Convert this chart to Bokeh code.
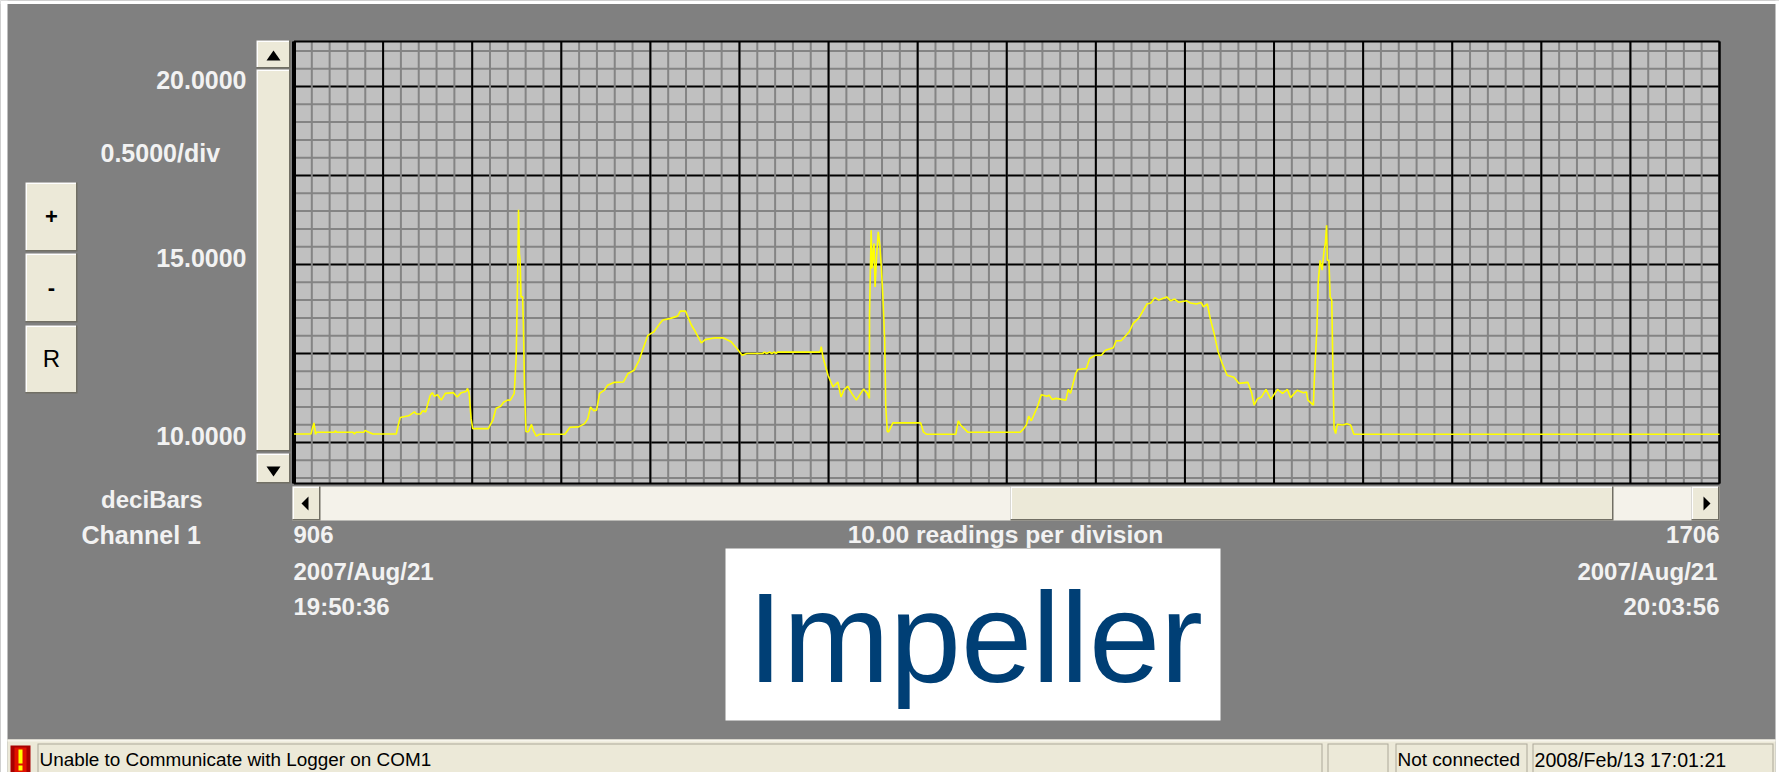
from bokeh.plotting import figure
from bokeh.models import Range1d, ColumnDataSource
from bokeh.core.properties import value
from bokeh.embed import file_html
from bokeh.resources import INLINE

# ---- data ----
readings = [906,915.5,916.3,917.2,918.1,918.6,928.8,929.2,929.9,939.2,939.9,940.8,945.2,945.9,947,950.3,963.4,964.7,965.6,970.3,973.6,974.7,977,978.1,979.9,981.4,982.5,983.6,984.7,986.5,988.7,990.9,995.4,997.6,999.8,1002.5,1003.4,1004.3,1005.4,1006.3,1015.1,1015.8,1017.6,1019.4,1022,1023.6,1025.8,1027.4,1029.6,1030.7,1031.6,1032,1032.5,1032.9,1033.4,1034.3,1034.7,1035.4,1036.2,1037.6,1039.3,1040.2,1042,1043.8,1058,1060.9,1065.8,1069.1,1070.9,1072.4,1074.2,1075.8,1077.5,1080.2,1082,1085.8,1090.9,1093.5,1096.9,1099.7,1101.3,1104.6,1108,1111.3,1113,1116.8,1121.3,1122.8,1125.7,1129,1131.3,1134.6,1136.8,1142.4,1146.8,1151.3,1154.6,1157.5,1160.1,1169,1170.1,1171.2,1173,1174.1,1175.7,1176.6,1177.4,1201.2,1201.9,1202.8,1205.7,1208.5,1211.2,1213,1214.5,1216.7,1219,1221.6,1223.4,1225.6,1227.8,1228.9,1229,1229.9,1230.4,1231.5,1232.1,1233,1233.9,1234.8,1235.7,1236.4,1237.5,1238.1,1239,1239.7,1242.1,1257.7,1259.2,1261,1277.4,1278.8,1280.1,1284.1,1313.6,1315.2,1317,1318.3,1319.8,1323.2,1325.4,1328.5,1329.8,1331.4,1333.6,1339.2,1340.5,1341.8,1344.7,1345.8,1350.7,1352.5,1355.8,1359.1,1361.4,1365.8,1367.4,1370.2,1374.7,1376.9,1380.2,1384.7,1386.9,1389.1,1391.3,1395.8,1398,1400.2,1402.4,1406.9,1409.1,1412.4,1415.1,1416.4,1418.6,1420.2,1422.4,1424.6,1426.9,1429.7,1433.5,1436.4,1441.3,1443.5,1444.8,1446.8,1449,1451.5,1454.2,1457.9,1460.8,1463.5,1465.3,1469,1472.4,1474.2,1475,1478.1,1478.6,1480.1,1480.8,1481.9,1483,1484.1,1484.8,1485.5,1485.9,1486.8,1487.5,1488.4,1489,1489.7,1490.6,1491.5,1494.6,1496.8,1499,1500.8,1706]
decibars = [10.24,10.24,10.39,10.55,10.23,10.29,10.29,10.33,10.29,10.29,10.24,10.29,10.29,10.34,10.31,10.24,10.24,10.53,10.70,10.75,10.86,10.80,10.80,10.89,10.86,11.14,11.33,11.40,11.30,11.34,11.19,11.38,11.40,11.28,11.40,11.43,11.52,11.38,10.67,10.39,10.39,10.46,10.63,10.96,11.02,11.13,11.19,11.19,11.38,12.41,14.93,16.54,15.31,15.12,14.09,14.09,13.39,11.52,10.30,10.30,10.51,10.35,10.18,10.23,10.23,10.43,10.44,10.53,10.67,11.00,10.89,10.91,11.38,11.47,11.61,11.69,11.70,11.94,12.03,12.31,12.55,13.01,13.11,13.34,13.44,13.48,13.55,13.69,13.69,13.30,13.11,12.80,12.89,12.94,12.94,12.83,12.64,12.45,12.50,12.50,12.54,12.50,12.54,12.50,12.54,12.50,12.54,12.54,12.69,12.41,11.89,11.56,11.70,11.28,11.47,11.58,11.38,11.19,11.33,11.50,11.38,11.24,13.62,15.96,14.89,15.59,14.37,15.26,15.92,15.54,14.84,14.19,12.87,11.00,10.30,10.30,10.55,10.55,10.30,10.23,10.23,10.61,10.49,10.29,10.29,10.37,10.49,10.74,10.61,11.00,11.34,11.30,11.33,11.21,11.24,11.19,11.49,11.38,11.94,12.05,12.08,12.36,12.45,12.45,12.59,12.66,12.86,12.86,13.11,13.34,13.50,13.89,13.92,14.07,14.00,14.09,13.98,14.03,13.94,13.98,13.92,13.89,13.93,13.81,13.89,13.48,13.06,12.55,12.22,11.89,11.83,11.66,11.69,11.38,11.05,11.23,11.28,11.49,11.21,11.49,11.38,11.49,11.26,11.47,11.40,11.42,11.19,11.05,11.75,13.25,14.51,15.12,14.84,15.40,15.59,16.10,15.12,15.12,14.09,14.00,12.17,10.39,10.25,10.51,10.49,10.53,10.49,10.23,10.23]
y_tick_labels = [(10, "10.0000"), (15, "15.0000"), (20, "20.0000")]
major_x = [906 + 50 * i for i in range(17)]
minor_x = [906 + 10 * i for i in range(81)]
major_y = [10, 12.5, 15, 17.5, 20]
minor_y = [v for v in (9 + 0.5 * i for i in range(25)) if v not in major_y]

W, H = 1779, 772
FACE = "#ECE9D8"
GRAY = "#808080"
TXT = "#F2F2F2"
FONT = "Liberation Sans"

# plot-area placement on the canvas
L, R, T, B = 293.5, 1719, 41, 483
PX_X = (R - L) / 800           # px per reading
PX_Y = 35.6                    # px per deciBar
Y10 = 442                      # canvas y of 10.0000
X_MIN, X_MAX = 906, 1706
Y_MIN, Y_MAX = 10 - (B - Y10) / PX_Y, 10 + (Y10 - T) / PX_Y

p = figure(width=W, height=H, output_backend="svg", toolbar_location=None,
           x_axis_location=None, y_axis_location=None,
           x_range=Range1d(0, W), y_range=Range1d(H, 0),
           min_border=0, background_fill_color=GRAY, border_fill_color=GRAY, outline_line_color=None)
p.styles = {"position": "absolute", "left": "0px", "top": "0px"}
p.grid.visible = False
p.extra_x_ranges = {"reading": Range1d(906 - L / PX_X, 906 + (W - L) / PX_X)}
p.extra_y_ranges = {"dbar": Range1d(10 - (H - Y10) / PX_Y, 10 + Y10 / PX_Y)}

def rect(x0, y0, x1, y1, color):
    p.quad(left=[x0], right=[x1], top=[y0], bottom=[y1], fill_color=color, line_color=None)

def raised(x0, y0, x1, y1):
    rect(x0, y0, x1, y1, "#716F64")
    rect(x0, y0, x1 - 1.5, y1 - 1.5, "#FFFFFF")
    rect(x0 + 1.5, y0 + 1.5, x1 - 1.5, y1 - 1.5, FACE)

def tri(pts):
    p.patch([a for a, _ in pts], [b for _, b in pts], fill_color="black", line_color=None)

def txt(x, y, s, size=24, align="left", color=TXT, style="bold", font=FONT):
    p.text([x], [y], text=[s], text_font=value(font), text_font_size=f"{size}px", text_font_style=style,
           text_color=color, text_align=align, text_baseline="middle")

# plot panel and grid (drawn through the reading / deciBar scales)
axes = dict(x_range_name="reading", y_range_name="dbar")
p.quad(left=[X_MIN], right=[X_MAX], bottom=[Y_MIN], top=[Y_MAX], fill_color="#C0C0C0", line_color=None, **axes)
def hlines(ticks, color, w=2):
    p.segment(x0=[X_MIN] * len(ticks), x1=[X_MAX] * len(ticks), y0=ticks, y1=ticks, line_color=color, line_width=w, **axes)
def vlines(ticks, color, w=2):
    p.segment(x0=ticks, x1=ticks, y0=[Y_MIN] * len(ticks), y1=[Y_MAX] * len(ticks), line_color=color, line_width=w, **axes)
hlines(major_y, "black")
hlines(minor_y, "#848484")
vlines(minor_x, "#848484")
vlines(major_x, "black")
hlines([Y_MIN, Y_MAX], "black", 2)
vlines([X_MIN], "black", 4)
vlines([X_MAX], "black", 2)

src = ColumnDataSource(dict(reading=readings, value=decibars))
p.line("reading", "value", source=src, line_color="#FFFF00", line_width=1.6, **axes)

# page white around the window panel
rect(0, 0, 7, H, "#FFFFFF")
rect(0, 0, W, 3.5, "#FFFFFF")
rect(1775, 0, W, H, "#FFFFFF")

# buttons
raised(25, 182, 77, 251)
raised(25, 253, 77, 322)
raised(25, 325, 77, 393)
txt(51, 216, "+", 22, "center", "black")
txt(51, 287, "-", 22, "center", "black")
txt(51, 358, "R", 24, "center", "black", "normal")

# vertical scrollbar
raised(256, 40, 290, 68)
raised(256, 69, 290, 451)
raised(256, 453, 290, 483)
tri([(266, 60), (280, 60), (273, 50)])
tri([(266, 466), (280, 466), (273, 476)])

# horizontal scrollbar
rect(292, 486, 1719, 520, "#F4F2EA")
raised(292, 486, 320, 520)
raised(1010, 486, 1613, 520)
raised(1691, 486, 1719, 520)
tri([(301, 503), (308, 496), (308, 510)])
tri([(1703, 496), (1703, 510), (1710, 503)])

# y labels
for v, s in y_tick_labels:
    p.text([246], [v], text=[s], y_range_name="dbar", y_offset=-6.5, text_font=value(FONT), text_font_size="25px",
           text_font_style="bold", text_color=TXT, text_align="right", text_baseline="middle")
txt(100, 152, "0.5000/div", 25)
txt(202, 499, "deciBars", 24, "right")
txt(81, 534, "Channel  1", 25)
txt(293, 534, "906")
txt(293, 571, "2007/Aug/21")
txt(293, 606, "19:50:36")
txt(1719, 534, "1706", 24, "right")
txt(1717, 571, "2007/Aug/21", 24, "right")
txt(1719, 606, "20:03:56", 24, "right")
txt(1005, 534, "10.00 readings per division", 24.6, "center")

# white title card
rect(725, 548, 1220, 720, "#FFFFFF")
txt(747, 637, "Impeller", 128, "left", "#003F75", "normal")

# status bar
rect(7, 739, 1775, H, FACE)
rect(7, 739, 1775, 741, "#F7F5EC")
rect(10, 745, 30, H, "#A80000")
rect(14, 747, 26, H, "#E01000")
rect(18, 749, 22, 763, "#FFFF00")
rect(18, 765, 22, 770, "#FFFF00")
for a, b in [(37, 1322), (1327, 1388), (1395, 1527), (1532, 1773)]:
    rect(a, 743, b, H, "#ACA899")
    rect(a + 1, 744, b - 1, H, FACE)
txt(39, 759, "Unable to Communicate with Logger on COM1", 18.9, "left", "black", "normal")
txt(1397, 759, "Not connected", 19, "left", "black", "normal")
txt(1534, 759, "2008/Feb/13 17:01:21", 19.6, "left", "black", "normal")

open("out.html", "w").write(file_html(p, INLINE))
